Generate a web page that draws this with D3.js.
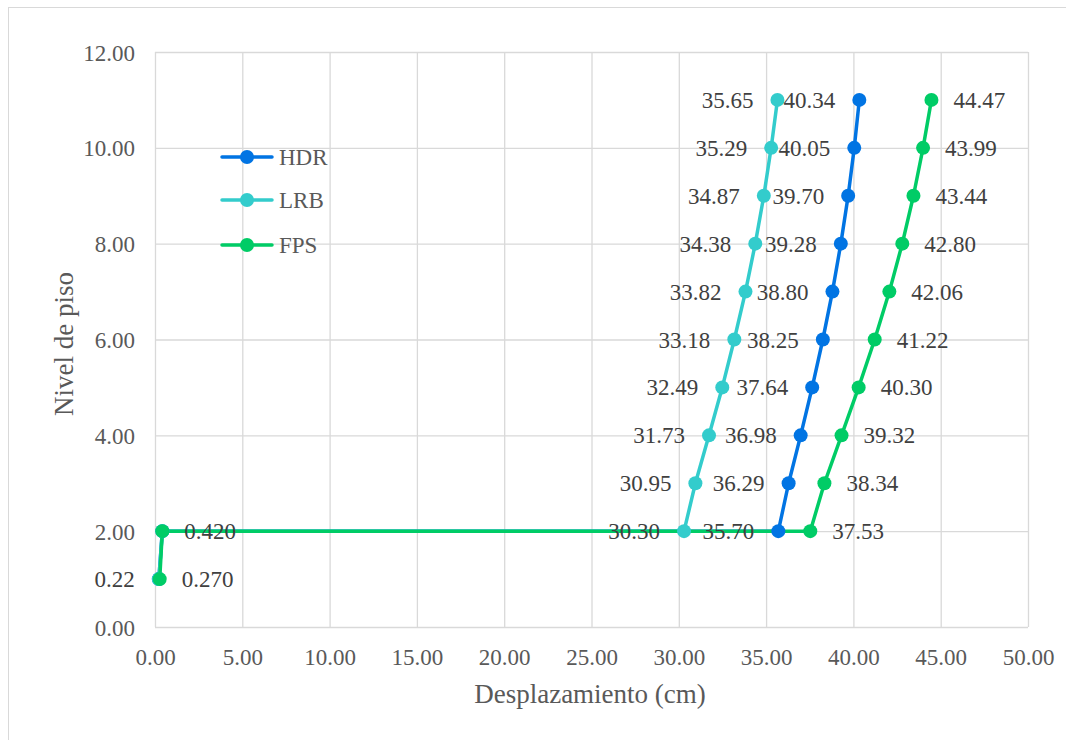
<!DOCTYPE html>
<html><head><meta charset="utf-8">
<script src="https://cdn.jsdelivr.net/npm/d3@7"></script>
<style>body{margin:0;background:#fff}svg{display:block}</style>
</head><body>
<svg id="c" width="1066" height="740"></svg>
<script>
const levels = [1, 2, 2, 3, 4, 5, 6, 7, 8, 9, 10, 11];
const hdr = [0.22, 0.42, 35.70, 36.29, 36.98, 37.64, 38.25, 38.80, 39.28, 39.70, 40.05, 40.34];
const lrb = [0.22, 0.42, 30.30, 30.95, 31.73, 32.49, 33.18, 33.82, 34.38, 34.87, 35.29, 35.65];
const fps = [0.27, 0.42, 37.53, 38.34, 39.32, 40.30, 41.22, 42.06, 42.80, 43.44, 43.99, 44.47];
const seriesNames = ["HDR", "LRB", "FPS"];
const seriesColors = ["#0174E3", "#33CCCC", "#00CC66"];
const labelSide = ["left", "left", "right"];
const hiddenLabels = [[0, 1], [1], []];
const threeDecimalLabels = [[], [], [0, 1]];
const xTicks = [0, 5, 10, 15, 20, 25, 30, 35, 40, 45, 50];
const yTicks = [0, 2, 4, 6, 8, 10, 12];

const svg = d3.select("#c");
const FONT = '"Liberation Serif", "Times New Roman", serif';
const fs = 23;
const m = {l: 155, r: 1028, t: 52, b: 627};
const x = d3.scaleLinear().domain([0, 50]).range([m.l, m.r]);
const y = d3.scaleLinear().domain([0, 12]).range([m.b, m.t]);

svg.append("rect").attr("x", 8.5).attr("y", 7.5).attr("width", 1070).attr("height", 740)
  .attr("fill", "#fff").attr("stroke", "#d9d9d9").attr("stroke-width", 1);

// grid + ticks
const gx = svg.append("g").attr("transform", `translate(0,${m.b})`)
  .call(d3.axisBottom(x).tickValues(xTicks).tickSize(-(m.b - m.t)).tickFormat(d3.format(".2f")));
gx.select(".domain").remove();
gx.selectAll("line").attr("stroke", "#d9d9d9").attr("stroke-width", 1.3);
gx.selectAll("text").style("font-family", FONT).style("font-size", fs + "px").attr("fill", "#595959").attr("y", 30).attr("dy", "0.35em");

const gy = svg.append("g").attr("transform", `translate(${m.l},0)`)
  .call(d3.axisLeft(y).tickValues(yTicks).tickSize(-(m.r - m.l)).tickFormat(d3.format(".2f")));
gy.select(".domain").remove();
gy.selectAll("line").attr("stroke", "#d9d9d9").attr("stroke-width", 1.3);
gy.selectAll("text").style("font-family", FONT).style("font-size", fs + "px").attr("fill", "#595959").attr("x", -20).attr("dy", "0.35em");

// axis titles
svg.append("text").attr("x", 590).attr("y", 703).attr("text-anchor", "middle")
  .style("font-family", FONT).style("font-size", "27px").attr("fill", "#595959").text("Desplazamiento (cm)");
svg.append("text").attr("transform", `translate(73,344) rotate(-90)`).attr("text-anchor", "middle")
  .style("font-family", FONT).style("font-size", "27px").attr("fill", "#595959").text("Nivel de piso");

const allSeries = [hdr, lrb, fps];
const line = d3.line().x(d => x(d[0])).y(d => y(d[1]));

// lines first
allSeries.forEach((vals, si) => {
  const pts = vals.map((v, i) => [v, levels[i]]);
  svg.append("path").datum(pts).attr("d", line).attr("fill", "none")
    .attr("stroke", seriesColors[si]).attr("stroke-width", 3.5).attr("stroke-linejoin", "round");
});
// markers
allSeries.forEach((vals, si) => {
  const pts = vals.map((v, i) => [v, levels[i]]);
  svg.append("g").selectAll("circle").data(pts).join("circle")
    .attr("cx", d => x(d[0])).attr("cy", d => y(d[1])).attr("r", 7).attr("fill", seriesColors[si]);
});
// labels
allSeries.forEach((vals, si) => {
  vals.forEach((v, i) => {
    if (hiddenLabels[si].includes(i)) return;
    const fmt = d3.format(threeDecimalLabels[si].includes(i) ? ".3f" : ".2f");
    const left = labelSide[si] === "left";
    svg.append("text").attr("x", x(v) + (left ? -24 : 22)).attr("y", y(levels[i]))
      .attr("dy", "0.35em").attr("text-anchor", left ? "end" : "start")
      .style("font-family", FONT).style("font-size", fs + "px").attr("fill", "#404040").text(fmt(v));
  });
});

// legend
const legY = [157, 200, 245];
seriesNames.forEach((n, i) => {
  const g = svg.append("g");
  g.append("line").attr("x1", 222).attr("x2", 272).attr("y1", legY[i]).attr("y2", legY[i])
    .attr("stroke", seriesColors[i]).attr("stroke-width", 3.5).attr("stroke-linecap", "round");
  g.append("circle").attr("cx", 247).attr("cy", legY[i]).attr("r", 7).attr("fill", seriesColors[i]);
  g.append("text").attr("x", 279).attr("y", legY[i]).attr("dy", "0.35em")
    .style("font-family", FONT).style("font-size", fs + "px").attr("fill", "#595959").text(n);
});
</script>
</body></html>
